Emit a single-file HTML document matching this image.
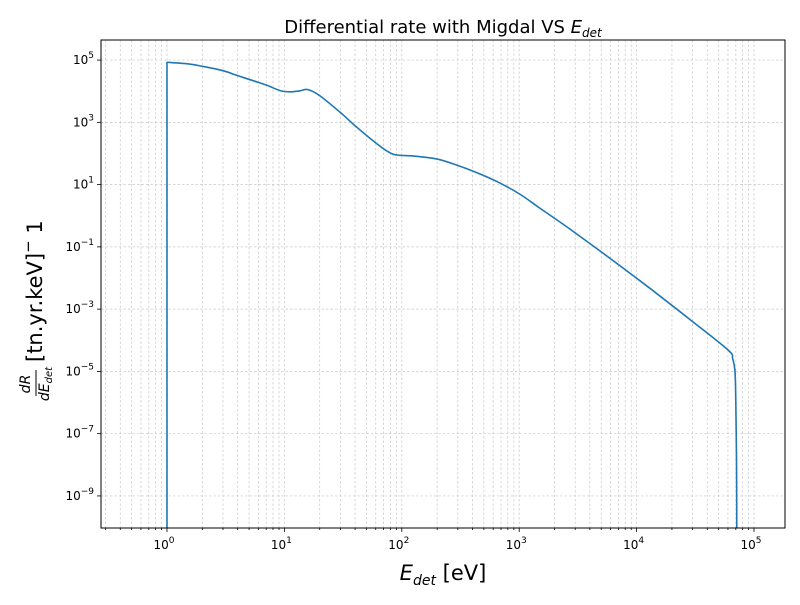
<!DOCTYPE html>
<html><head><meta charset="utf-8"><style>
html,body{margin:0;padding:0;background:#fff;}
svg text{font-family:"DejaVu Sans","Liberation Sans",sans-serif;}
</style></head><body>
<svg id="chart" width="800" height="600" xmlns="http://www.w3.org/2000/svg">
<rect x="0" y="0" width="800" height="600" fill="#fff"/>
<g id="grid"></g>
<g id="ticks"></g>
<path id="curve" fill="none" stroke="#1f77b4" stroke-width="1.6" stroke-linejoin="round"/>
<rect x="101" y="40" width="684" height="488" fill="none" stroke="#000" stroke-width="1"/>
<text x="443" y="33" font-size="18" text-anchor="middle">Differential rate with Migdal VS <tspan font-style="italic">E</tspan><tspan font-style="italic" font-size="12" dy="4">det</tspan></text>
<text x="443" y="580" font-size="21" text-anchor="middle"><tspan font-style="italic">E</tspan><tspan font-style="italic" font-size="14" dy="5">det</tspan><tspan dy="-5"> [eV]</tspan></text>
<g transform="translate(36,284) rotate(-90)">
<text x="-100" y="-6" font-size="14" font-style="italic" text-anchor="middle">dR</text>
<line x1="-112" y1="0" x2="-86" y2="0" stroke="#000" stroke-width="1"/>
<text x="-100" y="13" font-size="14" font-style="italic" text-anchor="middle">dE<tspan font-size="10" dy="3">det</tspan></text>
<text x="-78" y="6" font-size="21">[tn.yr.keV]<tspan font-size="15" dy="-9">−</tspan><tspan dy="9"> 1</tspan></text>
</g>
</svg>
<script>
const xs = [1, 1, 1.5, 2, 3, 4, 5.5, 7, 9.2, 11.2, 13.5, 15.9, 20.1, 31, 40, 61.5, 84, 124, 200, 313, 464, 686, 1016, 1503, 3000, 10700, 30000, 60400, 65800, 68900, 70000, 71000, 71300];
const logYs = [-10.2, 4.93, 4.88, 4.8, 4.66, 4.5, 4.33, 4.2, 4.02, 3.98, 4.01, 4.05, 3.85, 3.27, 2.89, 2.31, 1.98, 1.92, 1.82, 1.59, 1.34, 1.05, 0.69, 0.24, -0.55, -2.09, -3.4, -4.32, -4.59, -5.02, -6.0, -8.0, -10.2];
const xTickExp = [0,1,2,3,4,5];
const yTickExp = [5,3,1,-1,-3,-5,-7,-9];
const L=101,R=785,T=40,B=528;
const xMin=-0.562,xMax=5.264,yMin=-10.03,yMax=5.645;
const X=v=>L+(Math.log10(v)-xMin)/(xMax-xMin)*(R-L);
const Y=p=>T+(yMax-p)/(yMax-yMin)*(B-T);
const ns='http://www.w3.org/2000/svg';
const grid=document.getElementById('grid'),ticks=document.getElementById('ticks');
function ln(g,x1,y1,x2,y2,st,w,dash){const l=document.createElementNS(ns,'line');l.setAttribute('x1',x1);l.setAttribute('y1',y1);l.setAttribute('x2',x2);l.setAttribute('y2',y2);l.setAttribute('stroke',st);l.setAttribute('stroke-width',w);if(dash)l.setAttribute('stroke-dasharray',dash);g.appendChild(l);return l;}
for(let e=-1;e<=5;e++){for(let m=1;m<10;m++){const v=m*Math.pow(10,e);const px=X(v);if(px<L||px>R)continue;
 const g=ln(grid,px,T,px,B,'#c8c8c8',0.7,'2.5,2');
 const t=ln(ticks,px,B,px,B+(m===1?4:2),'#000',0.8);}}
xTickExp.forEach(e=>{const px=X(Math.pow(10,e));const t=document.createElementNS(ns,'text');t.setAttribute('x',px-3);t.setAttribute('y',B+21);t.setAttribute('font-size','12');t.setAttribute('text-anchor','middle');t.innerHTML='10<tspan font-size="9" dy="-6">'+e+'</tspan>';
 
 ticks.appendChild(t);});
yTickExp.forEach(e=>{const py=Y(e);const g=ln(grid,L,py,R,py,'#c8c8c8',0.7,'2.5,2');
 const tk=ln(ticks,L-4,py,L,py,'#000',0.8);
 const t=document.createElementNS(ns,'text');t.setAttribute('x',L-7);t.setAttribute('y',py+4);t.setAttribute('font-size','12');t.setAttribute('text-anchor','end');
 const s=e<0?'−'+(-e):''+e;t.innerHTML='10<tspan font-size="9" dy="-6">'+s+'</tspan>';
 
 ticks.appendChild(t);});
const pts=xs.map((x,i)=>[X(x),Math.min(B,Y(logYs[i]))]);
let d='M'+pts[0][0].toFixed(2)+','+pts[0][1].toFixed(2)+'L'+pts[1][0].toFixed(2)+','+pts[1][1].toFixed(2);
for(let i=1;i<pts.length-1;i++){const p0=pts[Math.max(1,i-1)],p1=pts[i],p2=pts[i+1],p3=pts[Math.min(pts.length-1,i+2)];
 const c1=[p1[0]+(p2[0]-p0[0])/6,p1[1]+(p2[1]-p0[1])/6],c2=[p2[0]-(p3[0]-p1[0])/6,p2[1]-(p3[1]-p1[1])/6];
 d+='C'+c1[0].toFixed(2)+','+c1[1].toFixed(2)+' '+c2[0].toFixed(2)+','+c2[1].toFixed(2)+' '+p2[0].toFixed(2)+','+p2[1].toFixed(2);}
document.getElementById('curve').setAttribute('d',d);
</script>
</body></html>
